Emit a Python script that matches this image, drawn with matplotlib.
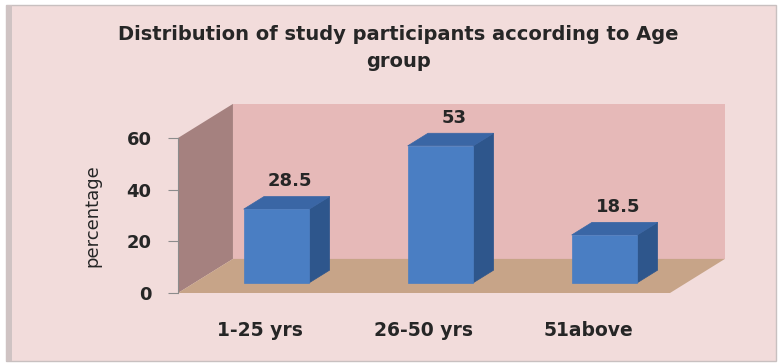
import matplotlib
matplotlib.use("Agg")
import matplotlib.pyplot as plt
from matplotlib.patches import Polygon, Rectangle

# Data
CATEGORIES = ["1-25 yrs", "26-50 yrs", "51above"]
PERCENTAGES = [28.5, 53, 18.5]
VALUE_LABELS = ["28.5", "53", "18.5"]
Y_TICKS = [0, 20, 40, 60]

TITLE = "Distribution of study participants according to Age\ngroup"

# Colours
OUTER_BG = "#FFFFFF"
FRAME_BG = "#F2DCDB"
BACK_WALL = "#E6B9B8"
SIDE_WALL = "#A5817F"
FLOOR = "#C7A488"
BAR_FRONT = "#4A7EC3"
BAR_TOP = "#3A66A5"
BAR_SIDE = "#2E568C"
TEXT = "#262626"
AXIS_GREY = "#8C8C8C"

W, H = 781, 363
DPI = 100
FONT = "DejaVu Sans"

# Oblique depth of the 3D box, in data units of the front plane
YMAX = 60
DX = 0.335          # category units
DY = 13.2           # value units
BAR_W = 0.40
F_FRONT, F_BACK = 0.30, 0.67   # bar depth position within the box

fig = plt.figure(figsize=(W / DPI, H / DPI), dpi=DPI, facecolor=OUTER_BG)

# Chart frame drawn in pixel space
bg = fig.add_axes([0, 0, 1, 1])
bg.set_xlim(0, W)
bg.set_ylim(H, 0)
bg.axis("off")
bg.add_patch(Rectangle((6, 5), 770, 356, facecolor=FRAME_BG,
                       edgecolor="#C8C0C0", lw=1.0))
bg.add_patch(Rectangle((6, 5), 6, 356, facecolor="#CFC3C3", edgecolor="none"))

# Front plane of the plot box
x0, x1, y0, y1 = 178, 670, 293, 138
ax = fig.add_axes([x0 / W, (H - y0) / H, (x1 - x0) / W, (y0 - y1) / H])
ax.set_facecolor("none")
n = len(CATEGORIES)
ax.set_xlim(-0.5, n - 0.5)
ax.set_ylim(0, YMAX)

left, right = -0.5, n - 0.5
walls = [
    ([(left + DX, DY), (right + DX, DY), (right + DX, YMAX + DY), (left + DX, YMAX + DY)], BACK_WALL),
    ([(left, 0), (left + DX, DY), (left + DX, YMAX + DY), (left, YMAX)], SIDE_WALL),
    ([(left, 0), (right, 0), (right + DX, DY), (left + DX, DY)], FLOOR),
]
for pts, col in walls:
    ax.add_patch(Polygon(pts, closed=True, facecolor=col, edgecolor="none",
                         clip_on=False, zorder=1))

# 3D bars
for i, v in enumerate(PERCENTAGES):
    fx, fy = i + F_FRONT * DX, F_FRONT * DY
    d_x, d_y = (F_BACK - F_FRONT) * DX, (F_BACK - F_FRONT) * DY
    xl, xr = fx - BAR_W / 2, fx + BAR_W / 2
    front = [(xl, fy), (xr, fy), (xr, fy + v), (xl, fy + v)]
    top = [(xl, fy + v), (xr, fy + v), (xr + d_x, fy + v + d_y), (xl + d_x, fy + v + d_y)]
    side = [(xr, fy), (xr + d_x, fy + d_y), (xr + d_x, fy + v + d_y), (xr, fy + v)]
    for pts, col in [(side, BAR_SIDE), (top, BAR_TOP), (front, BAR_FRONT)]:
        ax.add_patch(Polygon(pts, closed=True, facecolor=col, edgecolor=col,
                             lw=0.5, clip_on=False, zorder=3))
    ax.text(fx + d_x / 2 + 0.02, fy + v + d_y + 6, VALUE_LABELS[i], ha="center",
            va="center", fontsize=13, fontweight="bold", color=TEXT,
            family=FONT, zorder=4)

# Axes styling
for s in ["top", "right", "bottom"]:
    ax.spines[s].set_visible(False)
ax.spines["left"].set_color(AXIS_GREY)
ax.spines["left"].set_linewidth(0.8)
ax.set_yticks(Y_TICKS)
ax.set_yticklabels([str(t) for t in Y_TICKS], fontsize=13, fontweight="bold",
                   color=TEXT, family=FONT)
ax.tick_params(axis="y", length=7, width=0.8, color=AXIS_GREY, pad=12)
ax.set_xticks(range(n))
ax.set_xticklabels(CATEGORIES, fontsize=13.5, fontweight="bold", color=TEXT,
                   family=FONT)
ax.tick_params(axis="x", length=0, pad=20)

ax.set_ylabel("percentage", fontsize=13, color=TEXT, family=FONT)
ax.yaxis.set_label_coords(-0.175, 0.5)
ax.yaxis.label.set_va("center")

fig.text(398 / W, 1 - 48 / H, TITLE, ha="center", va="center", fontsize=14,
         fontweight="bold", color=TEXT, family=FONT, linespacing=1.5)

fig.savefig("out.png", dpi=DPI, facecolor=OUTER_BG)
